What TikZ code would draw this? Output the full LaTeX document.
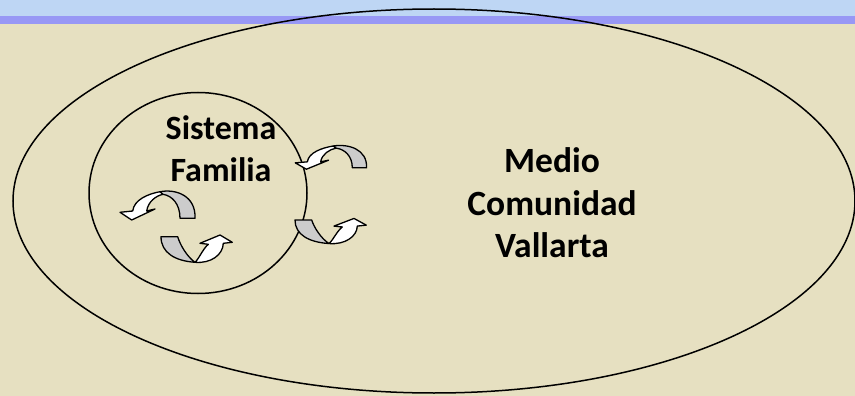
\documentclass[tikz,border=0pt]{standalone}
\usepackage{fontspec}
\setmainfont{Carlito}
\usepackage{tikz}
\usetikzlibrary{positioning}

\definecolor{parchment}{RGB}{230,224,193}
\definecolor{skyband}{RGB}{190,214,244}
\definecolor{lilacband}{RGB}{152,152,245}

\begin{document}
\begin{tikzpicture}[
x=1pt, y=-1pt,
ring/.style={draw, line width=1.5pt},
ribbon/.style={draw, line width=1.3pt, line join=round},
lbl/.style={font=\bfseries, align=center, inner sep=0pt},
loopdown/.pic={
  \filldraw[ribbon, fill=white] (0,0) .. controls (-12,2.2) and (-26,8) .. (-27.3,19.3) -- (-40,20.6) -- (-28.3,28.3) -- (-5,17.3) -- (-13.3,19.3) .. controls (-12,10) and (-4,4) .. (3,2.6) -- cycle;
  \filldraw[ribbon, fill=black!20] (0,0) .. controls (16,-3) and (36,4) .. (35,26.6) -- (20,26.6) .. controls (20,12) and (12,4) .. (3,2.6) -- cycle;
},
loopup/.pic={
  \filldraw[ribbon, fill=white] (34,25.6) .. controls (50,27) and (62,18) .. (62.3,6.6) -- (71.3,5.6) -- (59,-1.7) -- (39,6.6) -- (47.3,7.6) .. controls (42,12) and (38,22) .. (34,25.6) -- cycle;
  \filldraw[ribbon, fill=black!20] (0,0) -- (16.7,0) .. controls (19,8) and (26,20) .. (34,25.6) .. controls (14,24.2) and (0,16) .. (0,0) -- cycle;
}
]
% page and top band
\useasboundingbox (0,0) rectangle (855,396);
\fill[parchment] (0,0) rectangle (855,396);
\fill[skyband] (0,0) rectangle (855,16);
\fill[lilacband] (0,16) rectangle (855,24);

% the two systems
\draw[ring] (434,201) ellipse [x radius=421pt, y radius=192pt];
\draw[ring] (198,193) ellipse [x radius=109pt, y radius=100.5pt];

\node[lbl, font=\fontsize{34}{41.7}\selectfont\bfseries] (sistema) at (221,149) {Sistema\\Familia};
\node[lbl, font=\fontsize{35.5}{42.5}\selectfont\bfseries] (medio) at (552,203) {Medio\\Comunidad\\Vallarta};

% exchange loops
\pic at (160,191.7) {loopdown};
\pic at (161,236.7) {loopup};
\pic[xscale=0.95, yscale=0.82] at (333.3,146) {loopdown};
\pic[yscale=0.92] at (295,220) {loopup};
\end{tikzpicture}
\end{document}
